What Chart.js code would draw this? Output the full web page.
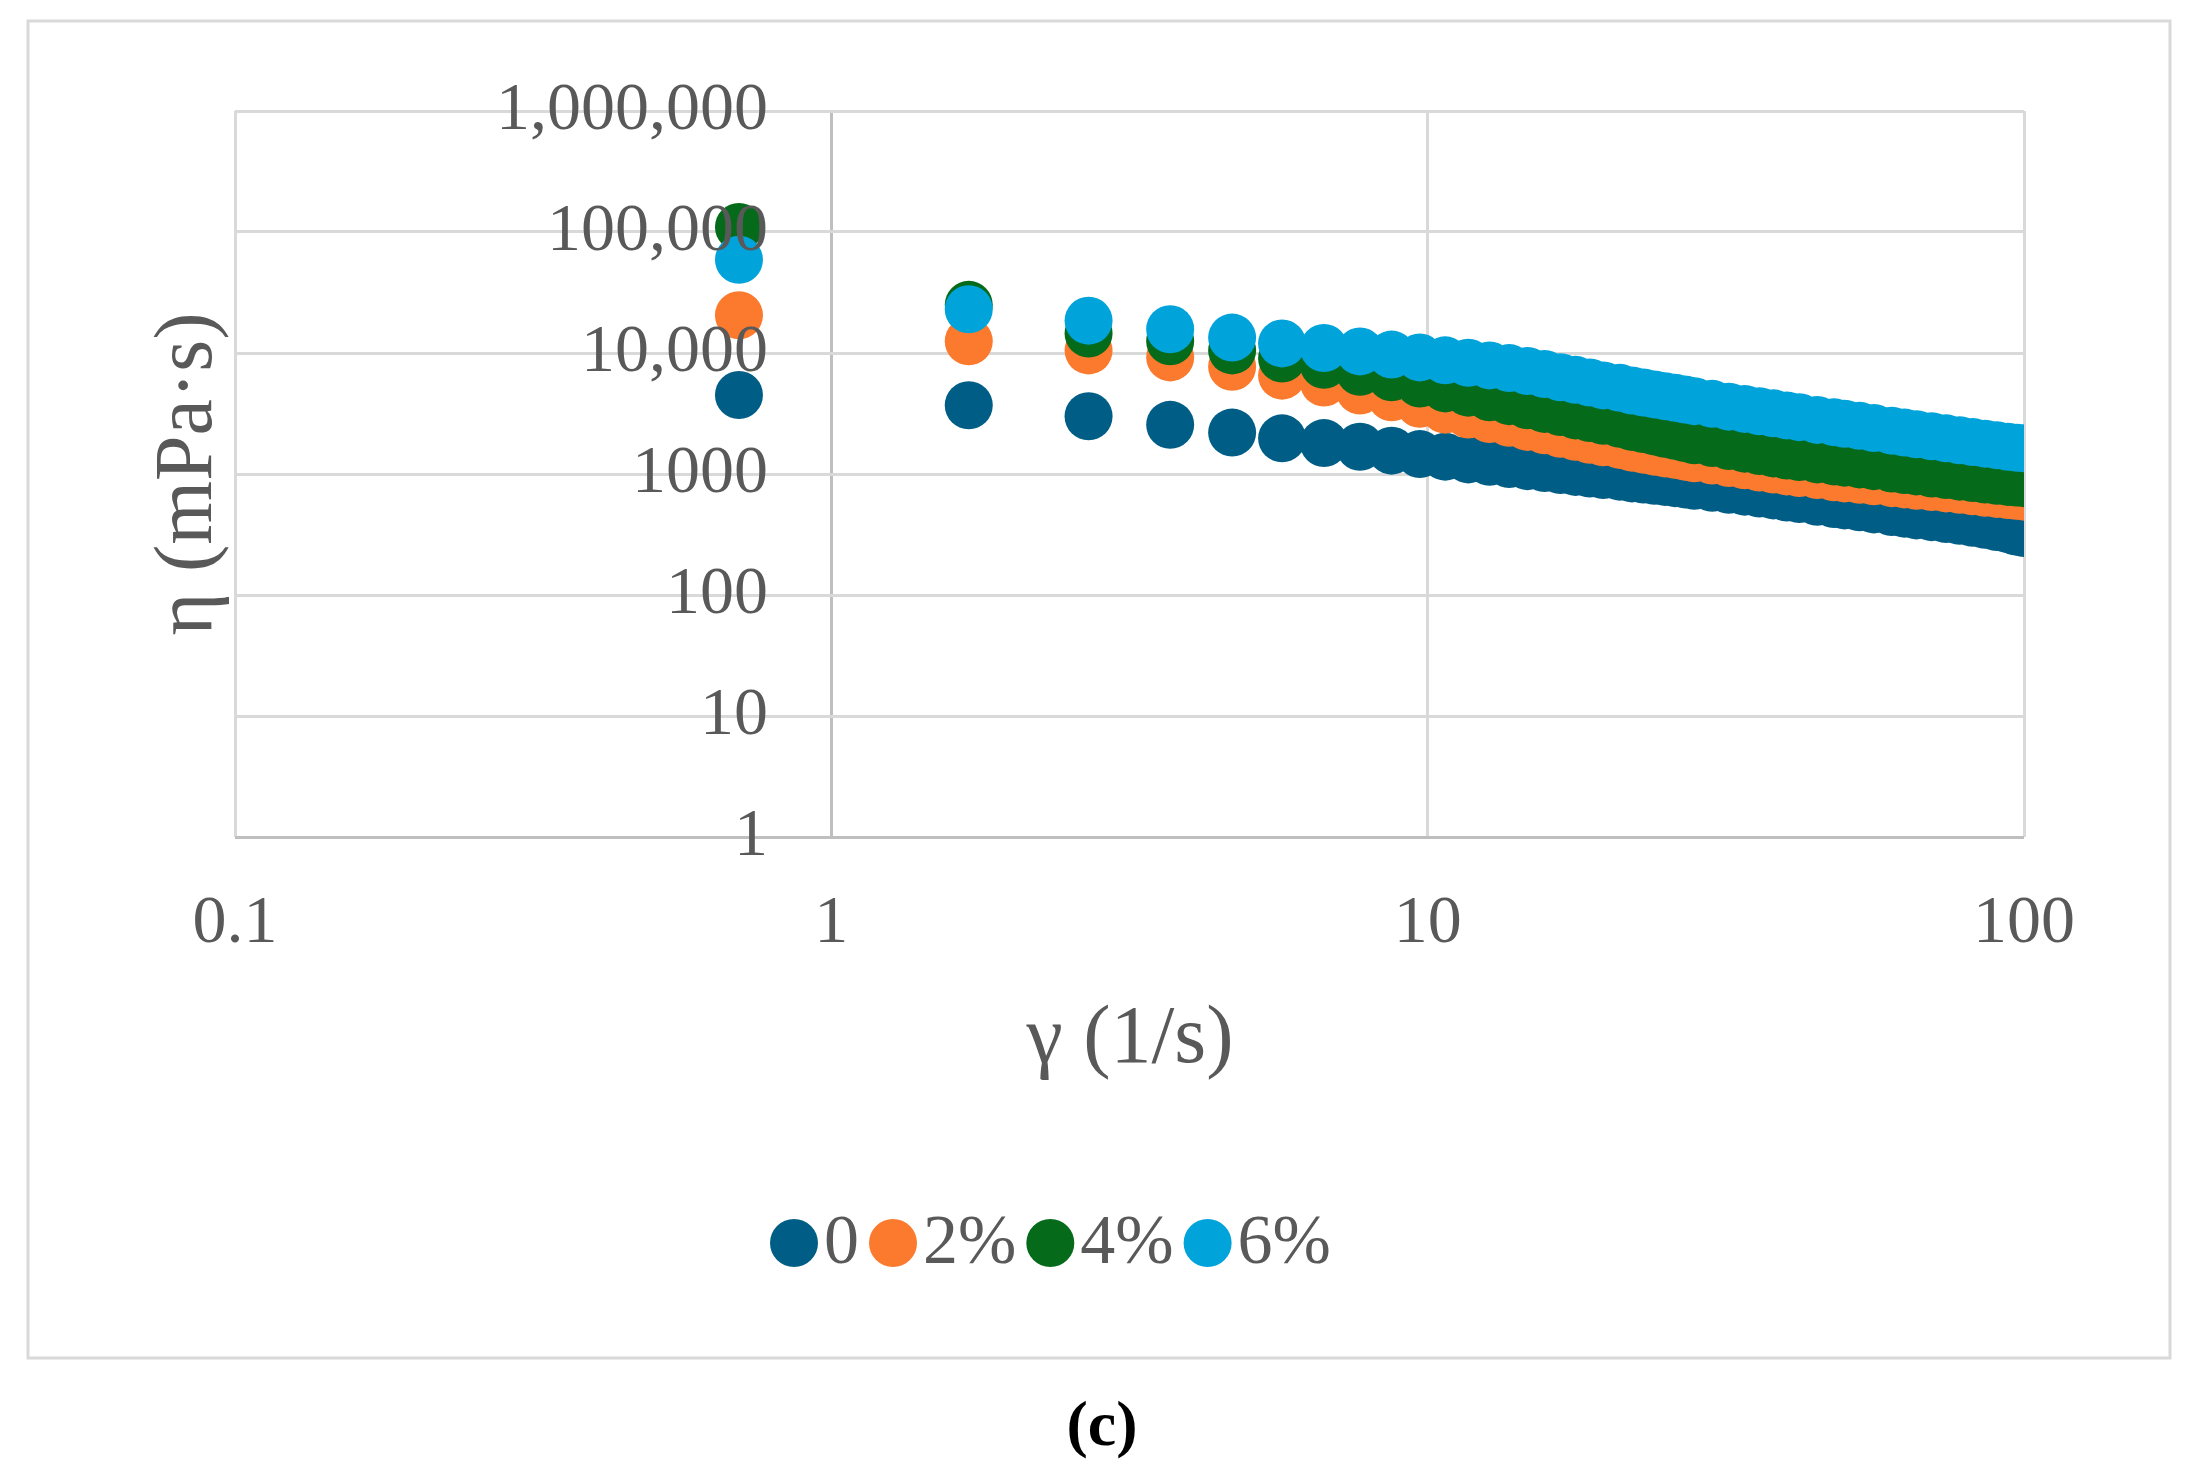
<!DOCTYPE html>
<html><head><meta charset="utf-8">
<script src="https://cdn.jsdelivr.net/npm/chart.js@4"></script>
<style>html,body{margin:0;padding:0;background:#fff}#wrap{width:2195px;height:1484px}</style>
</head><body><div id="wrap"><canvas id="c"></canvas></div>
<script>
const shearRate = [0.7,1.7,2.7,3.7,4.7,5.7,6.7,7.7,8.7,9.7,10.7,11.7,12.7,13.7,14.7,15.7,16.7,17.7,18.7,19.7,21,22,23,24,25,26,27,28,30,32,34,36,38,40,42,45,48,50,53,56,60,63,66,70,74,78,82,86,90,94,97,100];
const eta0 = [4500,3700,3000,2550,2200,1970,1800,1680,1560,1460,1390,1320,1260,1210,1160,1120,1080,1040,1010,980,950,920,900,880,860,840,820,800,770,740,715,690,665,640,620,590,565,550,530,510,485,470,455,440,425,410,395,380,365,350,335,325];
const eta2 = [20500,12500,10500,9200,7700,6500,5700,4900,4300,3800,3400,3100,2850,2650,2450,2300,2150,2030,1920,1830,1740,1650,1590,1530,1480,1440,1390,1350,1290,1230,1180,1130,1090,1050,1020,980,940,920,895,870,840,820,800,780,760,740,720,700,685,670,660,650];
const eta4 = [110000,25000,14500,12500,10500,9000,8000,7000,6300,5600,5100,4700,4300,4000,3700,3450,3250,3050,2900,2750,2600,2450,2350,2250,2150,2070,1980,1900,1800,1700,1620,1550,1480,1420,1380,1320,1270,1240,1200,1160,1110,1080,1050,1010,980,950,925,900,880,860,850,840];
const eta6 = [59000,23000,18500,15700,13400,12000,11000,10300,9700,9200,8700,8300,7900,7500,7100,6700,6300,6000,5700,5400,5150,4900,4720,4550,4400,4260,4130,4000,3800,3600,3450,3300,3170,3050,2950,2800,2680,2600,2500,2400,2280,2200,2130,2050,1970,1900,1840,1780,1730,1680,1650,1630];
const seriesNames = ['0','2%','4%','6%'];
const colors = ['#005e86','#fb7a2e','#056b1b','#00a3da'];
const xTicks = [0.1,1,10,100];
const xTickLabels = ['0.1','1','10','100'];
const yTicks = [1,10,100,1000,10000,100000,1000000];
const yTickLabels = ['1','10','100','1000','10,000','100,000','1,000,000'];
const xTitle = 'γ (1/s)', yTitle = 'η (mPa·s)', caption = '(c)';

const all = [eta0,eta2,eta4,eta6];
const datasets = all.map((arr,i)=>({
  label: seriesNames[i],
  order: 3 - i,
  data: shearRate.map((x,j)=>({x, y: arr[j]})),
  backgroundColor: colors[i], borderColor: colors[i],
  pointRadius: 24, pointHoverRadius: 24, showLine:false, borderWidth:0
}));
const FONT = '"Liberation Serif", "DejaVu Serif", serif';
const deco = {
  id:'deco',
  beforeDraw(ch){
    const c=ch.ctx; c.save();
    c.strokeStyle='#d9d9d9'; c.lineWidth=3;
    c.strokeRect(28,21,2142,1337);
    c.restore();
  },
  afterDraw(ch){
    const c=ch.ctx, xs=ch.scales.x, ys=ch.scales.y;
    c.save(); c.fillStyle='#595959';
    c.font='68px '+FONT;
    c.textAlign='right'; c.textBaseline='middle';
    yTicks.forEach((v,i)=>c.fillText(yTickLabels[i], 768, ys.getPixelForValue(v)));
    c.textAlign='center'; c.textBaseline='middle';
    xTicks.forEach((v,i)=>c.fillText(xTickLabels[i], xs.getPixelForValue(v), 924));
    c.font='82px '+FONT;
    c.fillText(xTitle, 1130, 1040);
    c.save(); c.translate(189,474); c.rotate(-Math.PI/2); c.fillText(yTitle,0,0); c.restore();
    // legend
    c.font='70px '+FONT; c.textAlign='left';
    let x=770; const y=1243;
    seriesNames.forEach((n,i)=>{
      c.fillStyle=colors[i]; c.beginPath(); c.arc(x+24,y,24,0,Math.PI*2); c.fill();
      c.fillStyle='#595959'; c.fillText(n,x+54,y+2);
      x += 54 + c.measureText(n).width + 10;
    });
    c.fillStyle='#000'; c.font='bold 64px '+FONT; c.textAlign='center';
    c.fillText(caption,1102,1428);
    c.restore();
  }
};
new Chart(document.getElementById('c'),{
  type:'scatter',
  data:{datasets},
  options:{
    responsive:true, maintainAspectRatio:false, animation:false, devicePixelRatio:1,
    layout:{padding:{left:235,right:171,top:111,bottom:647}},
    plugins:{legend:{display:false},tooltip:{enabled:false}},
    scales:{
      x:{type:'logarithmic',min:0.1,max:100,
        afterBuildTicks(s){s.ticks=xTicks.map(v=>({value:v}));},
        ticks:{display:false},border:{display:false},
        grid:{lineWidth:3,drawTicks:false,color:c=>c.tick&&c.tick.value===1?'#bfbfbf':'#d9d9d9'}},
      y:{type:'logarithmic',min:1,max:1000000,
        afterBuildTicks(s){s.ticks=yTicks.map(v=>({value:v}));},
        ticks:{display:false},border:{display:false},
        grid:{lineWidth:3,drawTicks:false,color:c=>c.tick&&c.tick.value===1?'#bfbfbf':'#d9d9d9'}}
    }
  },
  plugins:[deco]
});
</script></body></html>
